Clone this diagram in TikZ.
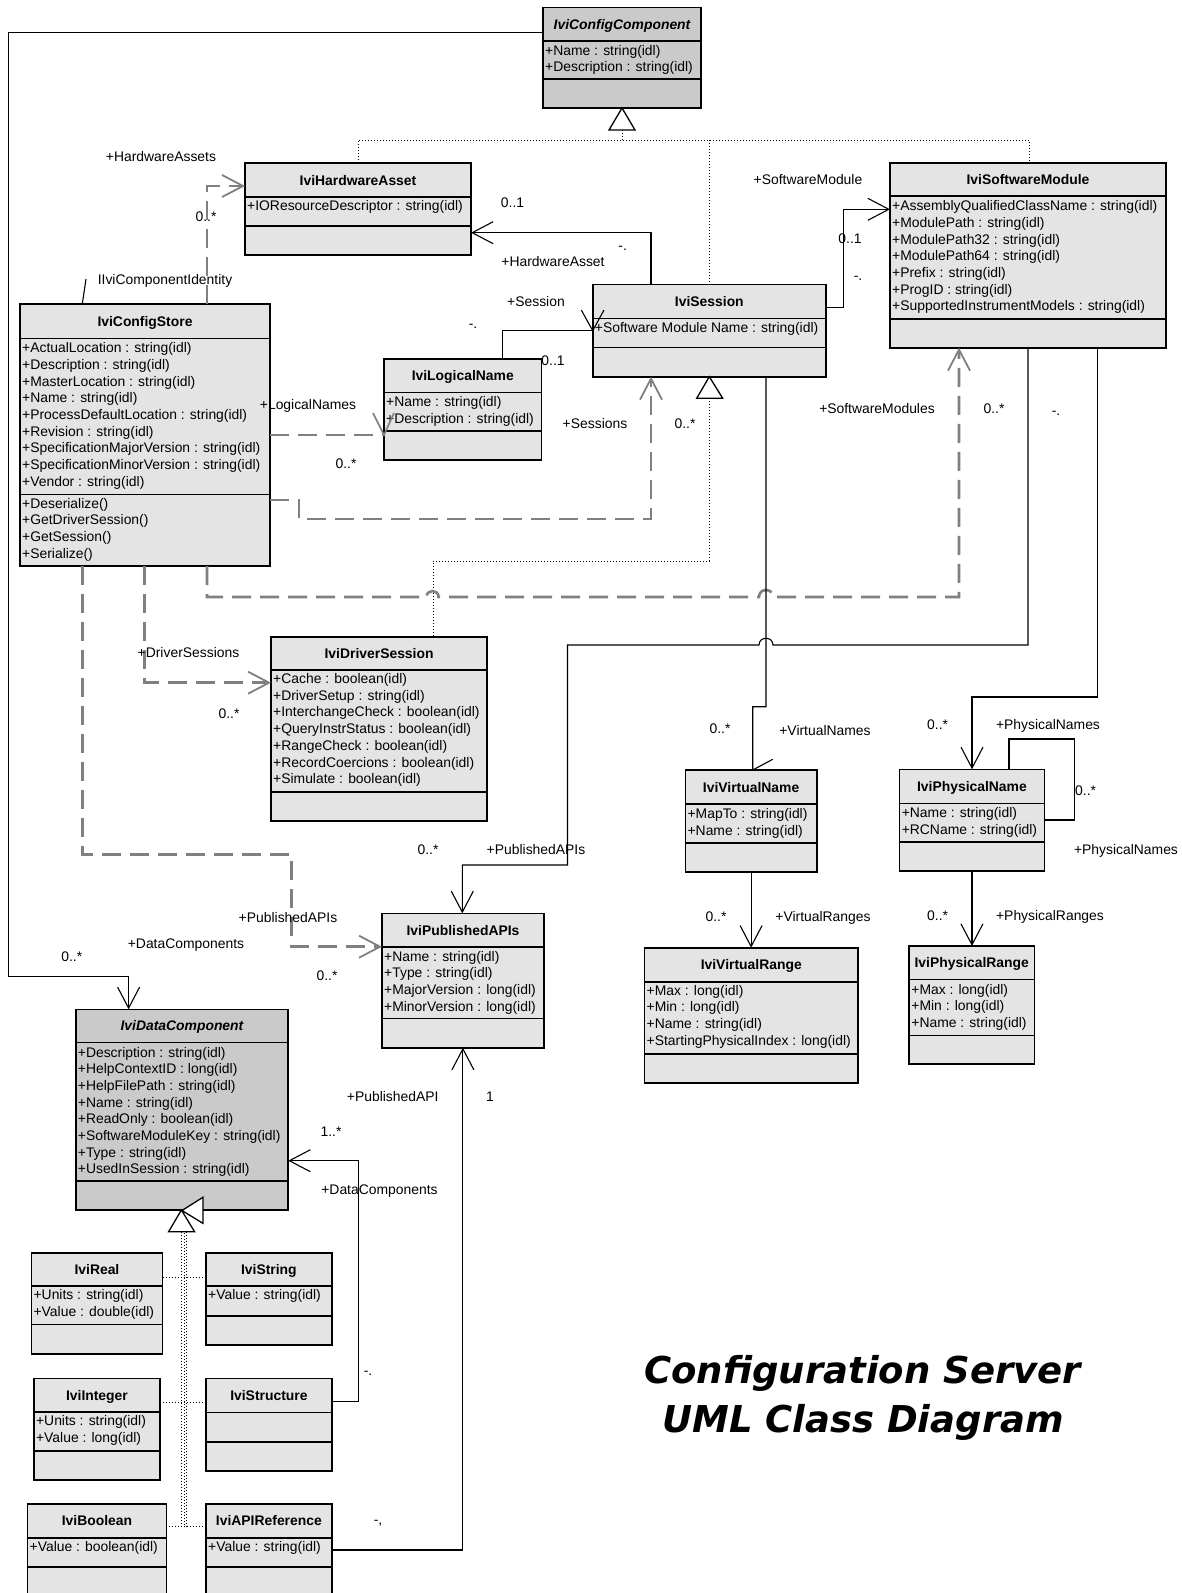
\documentclass[tikz,border=0pt]{standalone}
\usepackage{fontspec}
\setmainfont{Liberation Sans}
\newfontfamily\titlefont{DejaVu Sans}[BoldItalicFont={DejaVu Sans Bold Oblique}]
\usetikzlibrary{arrows.meta}
\definecolor{boxfill}{RGB}{228,228,228}
\definecolor{absfill}{RGB}{202,202,202}
\definecolor{dgray}{RGB}{128,128,128}
\tikzset{
 cls/.style={draw=black, line width=1.6pt, rectangle, inner sep=0pt, outer sep=0pt, anchor=north west},
 sepline/.style={draw=black, line width=1.6pt},
 ttl/.style={font=\bfseries\fontsize{13.9}{16.7}\selectfont, anchor=base, inner sep=0pt},
 attr/.style={font=\fontsize{13.9}{16.7}\selectfont, anchor=base west, inner sep=0pt},
 lbl/.style={font=\fontsize{13.9}{16.7}\selectfont, anchor=base, inner sep=0pt},
 assoc/.style={draw=black, line width=1.1pt},
 oarr/.style={-{Straight Barb[length=21pt,width=22pt,line width=1.1pt]}},
 garr/.style={-{Straight Barb[length=21pt,width=22pt,line width=1.8pt]}},
 dep/.style={draw=dgray, line width=2.6pt, dash pattern=on 19pt off 9pt},
 gwing/.style={draw=dgray, line width=1.6pt},
 gen/.style={draw=black, line width=0.9pt, dash pattern=on 1pt off 2pt},
 tri/.style={draw=black, line width=1.3pt, fill=white},
}
\newcommand\umlclass[9]{%
  \node[cls, fill=#6, minimum width={(#4-#2)*1pt}, minimum height={(#5-#3)*1pt}] (#1) at (#2,#3) {};
  \draw[sepline] (#2,#8) -- (#4,#8);
  \draw[sepline] (#2,#9) -- (#4,#9);
  \node[ttl] (#1-title) at ({(#2+#4)/2},{(#3+#8)/2+5}) {#7};
}
\newcommand\attrs[4]{%
  \foreach \attrtxt [count=\ai from 0] in {#4} {\node[attr] (#1-\ai) at (#2,{#3+16.7*\ai}) {\attrtxt};}
}
\newcommand\lab[4]{\node[lbl] (#1) at (#2,{#3+5}) {#4};}
\newcommand\dlab[4]{\node[lbl] (#1) at (#2,{#3+2}) {#4};}
\begin{document}
\begin{tikzpicture}[x=1pt,y=-1pt]
\fill[white] (0,0) rectangle (1182,1593);
\useasboundingbox (0,0) rectangle (1182,1593);

% ---------- classes ----------
\umlclass{ccomp}{543}{7.3}{701}{108}{absfill}{\itshape IviConfigComponent}{41}{79}
\attrs{ccomp}{545}{55.2}{+Name : string(idl),+Description : string(idl)}

\umlclass{hw}{245}{163}{471}{255}{boxfill}{IviHardwareAsset}{197}{226}
\attrs{hw}{247}{210.7}{+IOResourceDescriptor : string(idl)}

\umlclass{sm}{890}{163}{1166}{347.7}{boxfill}{IviSoftwareModule}{196}{319}
\attrs{sm}{892}{210.7}{+AssemblyQualifiedClassName : string(idl),+ModulePath : string(idl),+ModulePath32 : string(idl),+ModulePath64 : string(idl),+Prefix : string(idl),+ProgID : string(idl),+SupportedInstrumentModels : string(idl)}

\umlclass{cs}{20}{304}{270}{566}{boxfill}{IviConfigStore}{338.3}{494.3}
\attrs{csa}{22}{352.7}{+ActualLocation : string(idl),+Description : string(idl),+MasterLocation : string(idl),+Name : string(idl),+ProcessDefaultLocation : string(idl),+Revision : string(idl),+SpecificationMajorVersion : string(idl),+SpecificationMinorVersion : string(idl),+Vendor : string(idl)}
\attrs{cso}{22}{508}{+Deserialize(),+GetDriverSession(),+GetSession(),+Serialize()}

\umlclass{ln}{384}{359}{541.5}{460}{boxfill}{IviLogicalName}{392.3}{430.7}
\attrs{ln}{386}{406.4}{+Name : string(idl),+Description : string(idl)}

\umlclass{ss}{592.7}{284.3}{826}{376.7}{boxfill}{IviSession}{318.3}{347.3}
\attrs{ss}{594.7}{332}{+Software Module Name : string(idl)}

\umlclass{ds}{271}{636.7}{487.2}{820.7}{boxfill}{IviDriverSession}{670}{791.7}
\attrs{ds}{273}{683.5}{+Cache : boolean(idl),+DriverSetup : string(idl),+InterchangeCheck : boolean(idl),+QueryInstrStatus : boolean(idl),+RangeCheck : boolean(idl),+RecordCoercions : boolean(idl),+Simulate : boolean(idl)}

\umlclass{pa}{382}{913.3}{544}{1047.7}{boxfill}{IviPublishedAPIs}{946.7}{1018.3}
\attrs{pa}{384}{961}{+Name : string(idl),+Type : string(idl),+MajorVersion : long(idl),+MinorVersion : long(idl)}

\umlclass{vn}{685.4}{770}{816.8}{872}{boxfill}{IviVirtualName}{804}{842.7}
\attrs{vn}{687.4}{818.4}{+MapTo : string(idl),+Name : string(idl)}

\umlclass{pn}{899.6}{769.3}{1044.3}{871}{boxfill}{IviPhysicalName}{803.3}{841.7}
\attrs{pn}{901.6}{817.7}{+Name : string(idl),+RCName : string(idl)}

\umlclass{vr}{644.5}{947.7}{858}{1083}{boxfill}{IviVirtualRange}{981.7}{1054}
\attrs{vr}{646.5}{995}{+Max : long(idl),+Min : long(idl),+Name : string(idl),+StartingPhysicalIndex : long(idl)}

\umlclass{pr}{909.2}{946}{1034.3}{1064}{boxfill}{IviPhysicalRange}{979.3}{1035.3}
\attrs{pr}{911.2}{994}{+Max : long(idl),+Min : long(idl),+Name : string(idl)}

\umlclass{dc}{75.7}{1009.3}{288.2}{1210}{absfill}{\itshape IviDataComponent}{1042.3}{1181}
\attrs{dc}{77.7}{1057}{+Description : string(idl),+HelpContextID : long(idl),+HelpFilePath : string(idl),+Name : string(idl),+ReadOnly : boolean(idl),+SoftwareModuleKey : string(idl),+Type : string(idl),+UsedInSession : string(idl)}

\umlclass{re}{31.4}{1252.7}{162.5}{1354}{boxfill}{IviReal}{1286}{1324.3}
\attrs{re}{33.4}{1299.4}{+Units : string(idl),+Value : double(idl)}

\umlclass{st}{206}{1252.7}{331.8}{1345}{boxfill}{IviString}{1286}{1315.7}
\attrs{st}{208}{1299.4}{+Value : string(idl)}

\umlclass{intg}{33.9}{1378.3}{160}{1480}{boxfill}{IviInteger}{1411.7}{1450.7}
\attrs{intg}{35.9}{1425.7}{+Units : string(idl),+Value : long(idl)}

\umlclass{su}{206}{1378.3}{331.8}{1470.7}{boxfill}{IviStructure}{1412.3}{1441.7}

\umlclass{bo}{27.5}{1504}{166.4}{1620}{boxfill}{IviBoolean}{1537.7}{1566.7}
\attrs{bo}{29.5}{1551.7}{+Value : boolean(idl)}

\umlclass{ar}{206}{1504}{331.8}{1620}{boxfill}{IviAPIReference}{1537.7}{1566.7}
\attrs{ar}{208}{1551.7}{+Value : string(idl)}

% ---------- generalizations (dotted) ----------
\draw[gen] (622,130) -- (622,140);
\draw[gen] (358,0 |- hw.north) -- (358,140) -- (1029,140) -- (1029,0 |- sm.north);
\draw[gen] (709.3,140) -- (709.3,0 |- ss.north);
\draw[tri] (ccomp.south) -- (609,130) -- (635,130) -- cycle;
\draw[gen] (709.3,398.3) -- (709.3,561) -- (433,561) -- (433,0 |- ds.north);
\draw[tri] (709.3,0 |- ss.south) -- (696.7,398.3) -- (722.7,398.3) -- cycle;
\draw[gen] (181.5,1231.7) -- (181.5,1527);
\draw[gen] (184,1233) -- (184,1527);
\draw[gen] (186.5,1231.7) -- (186.5,1527);
\draw[gen] (re.east |- 0,1277) -- (st.west |- 0,1277);
\draw[gen] (intg.east |- 0,1402.5) -- (su.west |- 0,1402.5);
\draw[gen] (bo.east |- 0,1526.7) -- (ar.west |- 0,1526.7);
\filldraw[tri] (182,1210.5) -- (202.9,1197.3) -- (202.9,1223.3) -- cycle;
\filldraw[tri] (181.4,0 |- dc.south) -- (168.6,1231.7) -- (194.6,1231.7) -- cycle;

% ---------- gray dashed associations ----------
\draw[dep,garr] (207,0 |- cs.north) -- (207,186) -- (hw.west |- 0,186);
\draw[dep] (cs.east |- 0,435) -- (ln.west |- 0,435);
\draw[gwing] (373,413) -- (ln.west |- 0,435) -- (394,413);
\draw[dep,garr] (cs.east |- 0,500) -- (299,500) -- (299,519) -- (651,519) -- (651,0 |- ss.south);
\draw[dep,garr] (207,0 |- cs.south) -- (207,597) -- (426.5,597) .. controls (426.5,589) and (438.5,589) .. (438.5,597) -- (759,597) .. controls (759,587.7) and (773,587.7) .. (773,597) -- (959,597) -- (959,0 |- sm.south);
\draw[dep,garr] (144.7,0 |- cs.south) -- (144.7,682.7) -- (ds.west |- 0,682.7);
\draw[dep,garr] (82.3,0 |- cs.south) -- (82.3,854.3) -- (291.6,854.3) -- (291.6,946.7) -- (pa.west |- 0,946.7);

% ---------- black associations ----------
\draw[assoc,oarr] (ccomp.west |- 0,32.3) -- (8.4,32.3) -- (8.4,976.7) -- (128.6,976.7) -- (128.6,0 |- dc.north);
\draw[assoc,oarr] (651,0 |- ss.north) -- (651,232.7) -- (hw.east |- 0,232.7);
\draw[assoc] (502.5,0 |- ln.north) -- (502.5,330.7) -- (ss.west |- 0,330.7);
\draw[assoc] (581.3,310) -- (ss.west |- 0,330.7) -- (604,310);
\draw[assoc,oarr] (ss.east |- 0,307.3) -- (843.3,307.3) -- (843.3,209.3) -- (sm.west |- 0,209.3);
\draw[assoc] (766,0 |- ss.south) -- (766,706.7) -- (752.7,706.7) -- (752.7,0 |- vn.north) -- (772.7,759.3);
\draw[assoc,oarr] (1028,0 |- sm.south) -- (1028,645) -- (773,645) .. controls (773,636) and (759,636) .. (759,645) -- (567.5,645) -- (567.5,865) -- (462.3,865) -- (462.3,0 |- pa.north);
\draw[assoc,oarr] (1097.5,0 |- sm.south) -- (1097.5,697) -- (972,697) -- (972,0 |- pn.north);
\draw[assoc] (1009,0 |- pn.north) -- (1009,739) -- (1074.8,739) -- (1074.8,820) -- (pn.east |- 0,820);
\draw[assoc,oarr] (vn.south) -- (vn.south |- vr.north);
\draw[assoc,oarr] (pn.south) -- (pn.south |- pr.north);
\draw[assoc,oarr] (ar.east |- 0,1550) -- (462.9,1550) -- (462.9,0 |- pa.south);
\draw[assoc,oarr] (su.east |- 0,1401.7) -- (358.2,1401.7) -- (358.2,1160.7) -- (dc.east |- 0,1160.7);
\draw[assoc] (82.3,0 |- cs.north) -- (86,279);

% ---------- labels ----------
\lab{l1}{161}{156}{+HardwareAssets}
\lab{l2}{206}{216}{0..*}
\lab{l3}{165}{279}{IIviComponentIdentity}
\lab{l4}{512.5}{202}{0..1}
\lab{l5}{553}{261}{+HardwareAsset}
\dlab{l6}{622.7}{248.3}{-.}
\lab{l7}{808}{179}{+SoftwareModule}
\lab{l8}{850}{238}{0..1}
\dlab{l9}{858}{278}{-.}
\lab{l10}{536}{301}{+Session}
\dlab{l11}{473}{326.7}{-.}
\lab{l12}{553}{360}{0..1}
\lab{l13}{308}{404.3}{+LogicalNames}
\lab{l14}{346}{463}{0..*}
\lab{l15}{595}{423}{+Sessions}
\lab{l16}{685}{423}{0..*}
\lab{l17}{877}{408}{+SoftwareModules}
\lab{l18}{994}{408}{0..*}
\dlab{l19}{1056}{413}{-.}
\lab{l20}{188.5}{652}{+DriverSessions}
\lab{l21}{229}{713}{0..*}
\lab{l22}{720}{728}{0..*}
\lab{l23}{825}{730}{+VirtualNames}
\lab{l24}{937.6}{724}{0..*}
\lab{l25}{1048}{724}{+PhysicalNames}
\node[lbl, anchor=base west] (l26) at (1075,795) {0..*};
\lab{l27}{1126}{849}{+PhysicalNames}
\lab{l28}{428}{849}{0..*}
\lab{l29}{536}{849}{+PublishedAPIs}
\lab{l30}{288}{917}{+PublishedAPIs}
\lab{l31}{186}{943}{+DataComponents}
\lab{l32}{71.8}{956}{0..*}
\lab{l33}{327}{975}{0..*}
\lab{l34}{716}{916}{0..*}
\lab{l35}{823}{916}{+VirtualRanges}
\lab{l36}{937.6}{915}{0..*}
\lab{l37}{1050}{915}{+PhysicalRanges}
\lab{l38}{392.7}{1096}{+PublishedAPI}
\lab{l39}{490}{1096}{1}
\lab{l40}{331}{1131}{1..*}
\lab{l41}{379.5}{1189}{+DataComponents}
\dlab{l42}{368}{1373}{-.}
\dlab{l43}{378}{1522}{-,}

% ---------- title ----------
\node[font=\titlefont\bfseries\itshape\fontsize{37}{48}\selectfont, inner sep=0pt] (title1) at (862.6,1373.6) {Configuration Server};
\node[font=\titlefont\bfseries\itshape\fontsize{37}{48}\selectfont, inner sep=0pt] (title2) at (863,1422.4) {UML Class Diagram};
\end{tikzpicture}
\end{document}
